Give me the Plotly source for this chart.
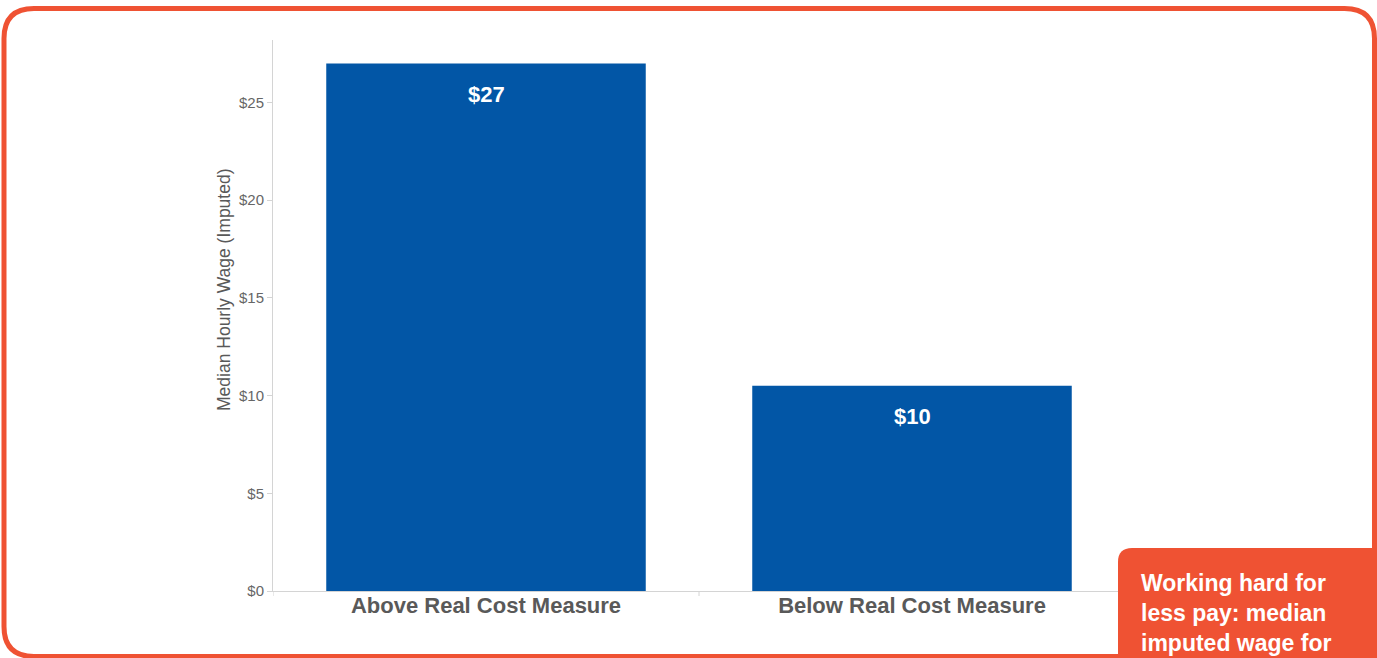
import plotly.graph_objects as go

# Data
categories = ["Above Real Cost Measure", "Below Real Cost Measure"]
median_wage = [27.0, 10.5]
y_tick_values = [0, 5, 10, 15, 20, 25]
y_tick_labels = ["$0", "$5", "$10", "$15", "$20", "$25"]
y_title = "Median Hourly Wage (Imputed)"
callout_lines = ["Working hard for", "less pay: median", "imputed wage for"]

W, H = 1377, 658
ML, MR, MT, MB = 273, 252, 40, 67
PW, PH = W - ML - MR, H - MT - MB

BLUE = "#0256A6"
ORANGE = "#EF5233"
AXIS_GREY = "#d4d4d4"
FONT = "Arial, Liberation Sans, sans-serif"


def px_x(x):
    return (x - ML) / PW


def px_y(y):
    return (H - MB - y) / PH


def rounded_path(x0, y0, x1, y1, r, corners=(True, True, True, True)):
    """Rounded rectangle in pixel space -> SVG path in paper space.
    corners: top-left, top-right, bottom-right, bottom-left."""
    tl, tr, br, bl = [r if c else 0 for c in corners]
    P = lambda x, y: f"{px_x(x):.6f},{px_y(y):.6f}"
    d = f"M {P(x0 + tl, y0)} L {P(x1 - tr, y0)} "
    if tr:
        d += f"Q {P(x1, y0)} {P(x1, y0 + tr)} "
    d += f"L {P(x1, y1 - br)} "
    if br:
        d += f"Q {P(x1, y1)} {P(x1 - br, y1)} "
    d += f"L {P(x0 + bl, y1)} "
    if bl:
        d += f"Q {P(x0, y1)} {P(x0, y1 - bl)} "
    d += f"L {P(x0, y0 + tl)} "
    if tl:
        d += f"Q {P(x0, y0)} {P(x0 + tl, y0)} "
    return d + "Z"


fig = go.Figure(
    go.Bar(
        x=categories,
        y=median_wage,
        marker=dict(color=BLUE, line=dict(width=0)),
        width=0.75,
        hoverinfo="skip",
    )
)

# Value labels inside the bars, near the top
for cat, v in zip(categories, median_wage):
    fig.add_annotation(
        x=cat, y=v, xref="x", yref="y",
        text=f"<b>${int(v)}</b>", showarrow=False,
        yanchor="middle", yshift=-31,
        font=dict(family=FONT, size=22, color="white"),
    )

# Y axis title, placed a little above the axis midpoint
fig.add_annotation(
    x=px_x(224), y=px_y(290), xref="paper", yref="paper",
    text=y_title, textangle=-90, showarrow=False,
    xanchor="center", yanchor="middle",
    font=dict(family=FONT, size=17.5, color="#595959"),
)

shapes = [
    # outer rounded frame
    dict(type="path", xref="paper", yref="paper",
         path=rounded_path(4, 8.5, 1374.5, 656.5, 30),
         line=dict(color=ORANGE, width=5), fillcolor="rgba(0,0,0,0)",
         layer="above"),
    # callout box in the lower right
    dict(type="path", xref="paper", yref="paper",
         path=rounded_path(1118, 548, 1385, 670, 14, (True, False, False, False)),
         line=dict(width=0), fillcolor=ORANGE, layer="above"),
]

# category boundary ticks below the x axis
n = len(categories)
for b in [i - 0.5 for i in range(n + 1)]:
    shapes.append(dict(type="line", xref="x", yref="paper",
                       x0=b, x1=b, y0=0, y1=px_y(H - MB + 5),
                       line=dict(color=AXIS_GREY, width=1), layer="below"))

fig.add_annotation(
    x=px_x(1139), y=px_y(568), xref="paper", yref="paper",
    xanchor="left", yanchor="top", align="left", showarrow=False,
    text="<b>" + "<br>".join(callout_lines) + "</b>",
    font=dict(family=FONT, size=23, color="white"),
)

fig.update_layout(
    width=W, height=H,
    margin=dict(l=ML, r=MR, t=MT, b=MB, pad=0),
    paper_bgcolor="white", plot_bgcolor="white",
    showlegend=False,
    bargap=0.25,
    shapes=shapes,
    font=dict(family=FONT),
    xaxis=dict(
        range=[-0.5, n - 0.5],
        showgrid=False, zeroline=False,
        showline=True, linecolor=AXIS_GREY, linewidth=1,
        ticks="", ticklabelstandoff=-5,
        tickfont=dict(family=FONT, size=22, color="#595959"),
        tickprefix="<b>", ticksuffix="</b>",
        fixedrange=True,
    ),
    yaxis=dict(
        range=[0, 28.2],
        tickvals=y_tick_values, ticktext=y_tick_labels,
        showgrid=False, zeroline=False,
        showline=True, linecolor=AXIS_GREY, linewidth=1,
        ticks="outside", ticklen=5, tickcolor=AXIS_GREY,
        tickfont=dict(family=FONT, size=15, color="#666666"),
        fixedrange=True,
    ),
)

fig.write_html("out.html", config={"displayModeBar": False})
